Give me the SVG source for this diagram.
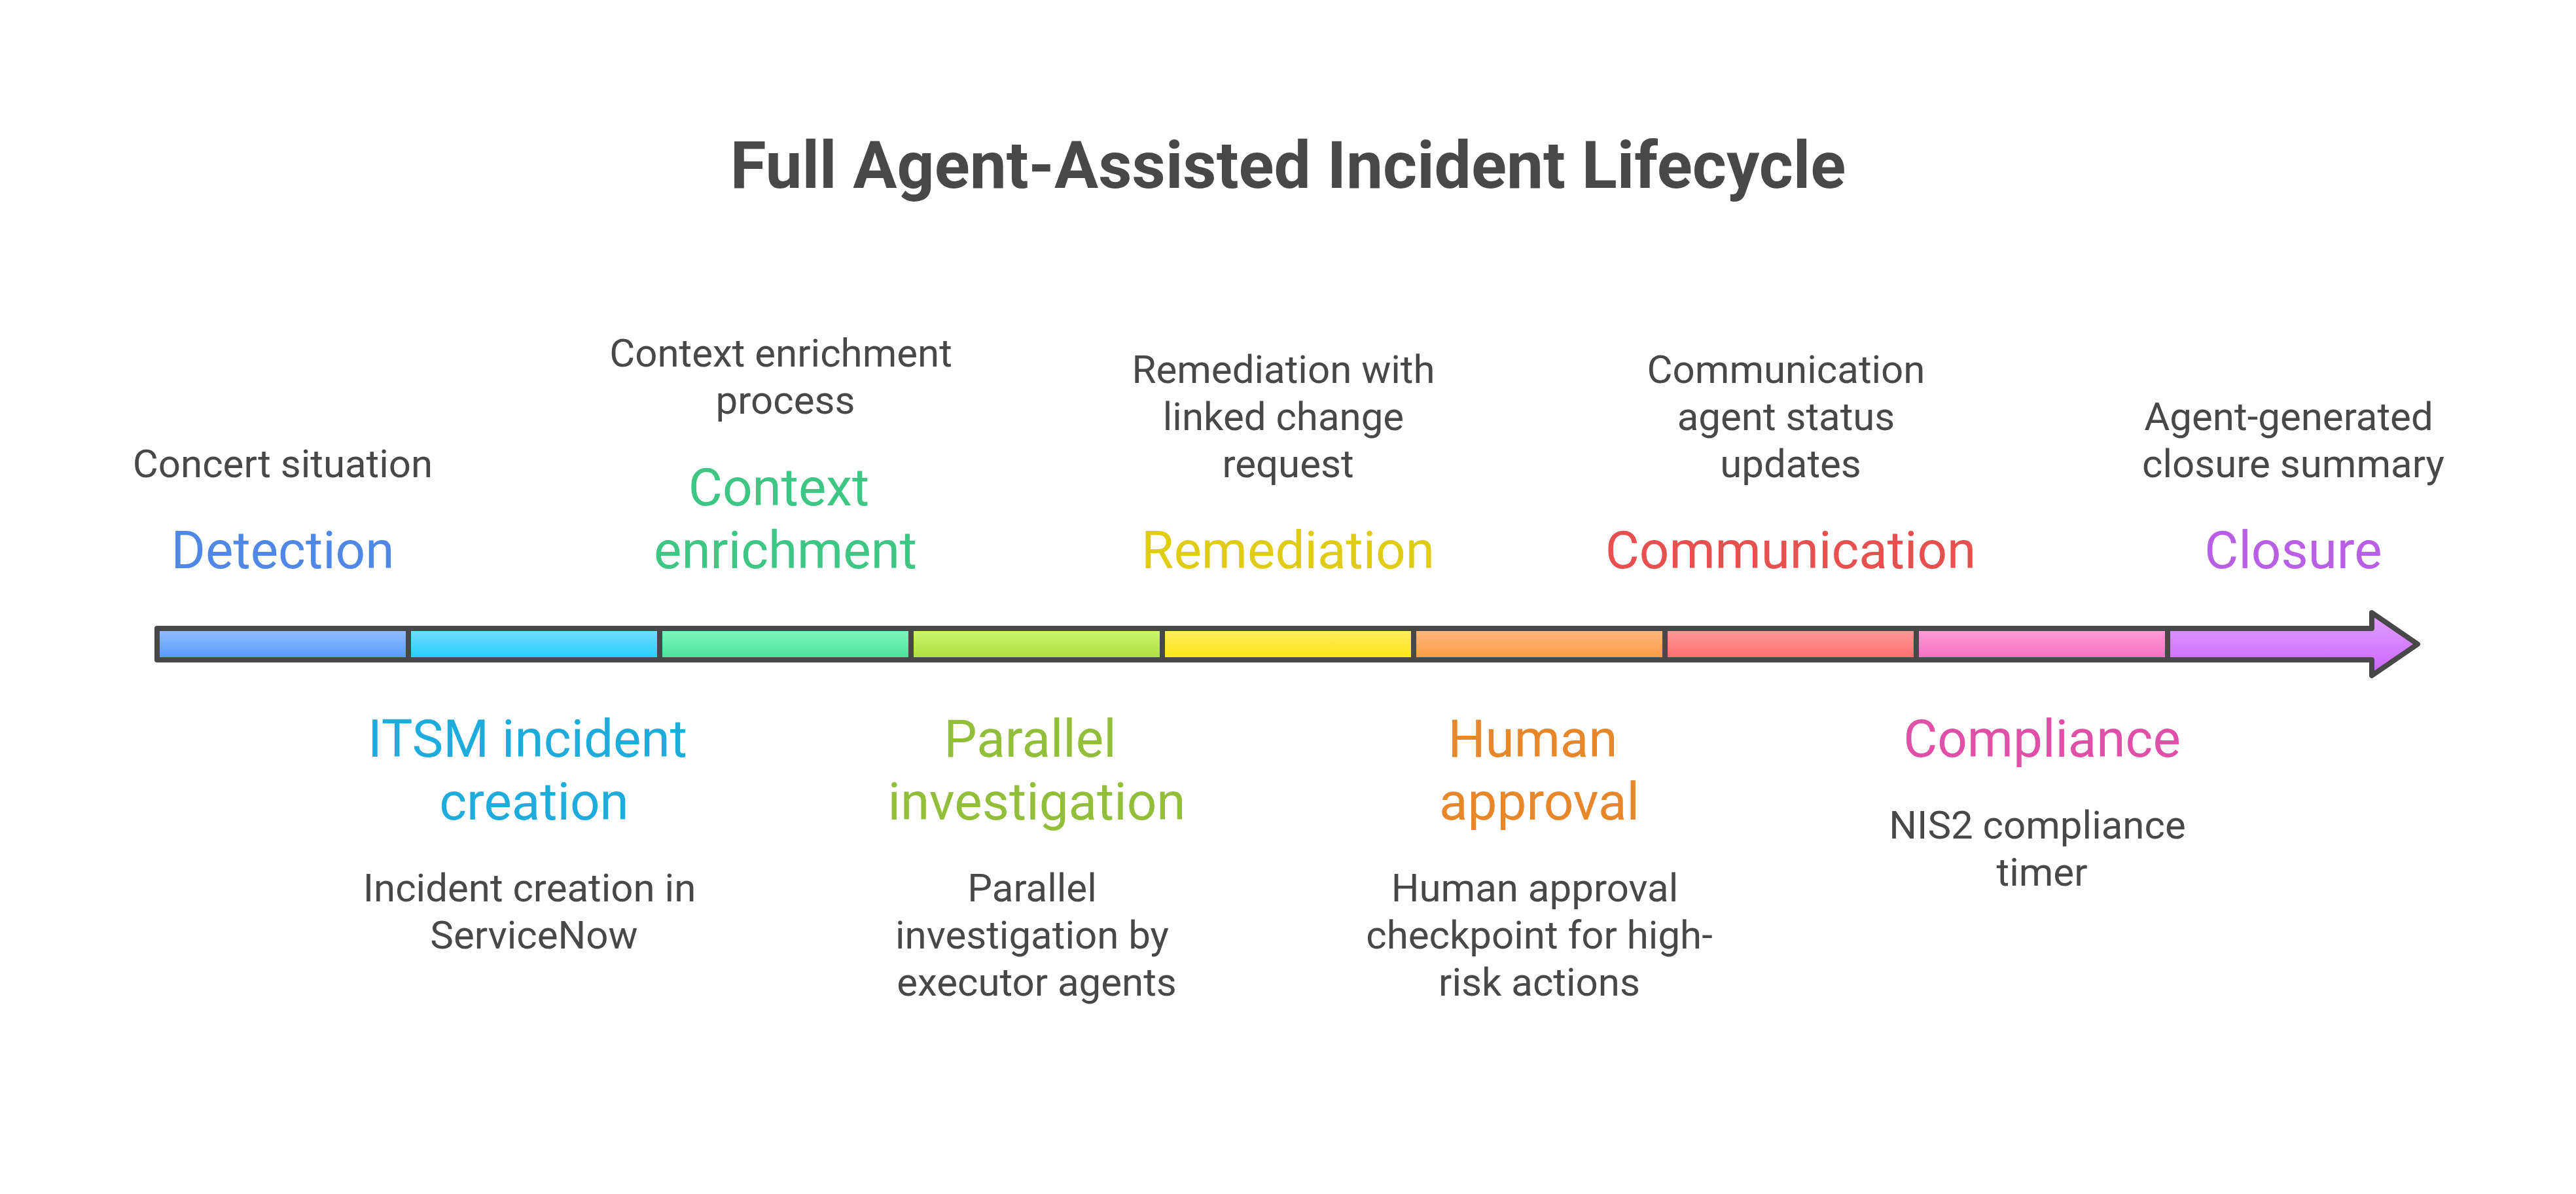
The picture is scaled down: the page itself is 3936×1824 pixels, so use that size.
<svg xmlns="http://www.w3.org/2000/svg" width="3936" height="1824" viewBox="0 0 3936 1824">
<defs>
<style>
text{font-family:Roboto,"Liberation Sans",sans-serif;text-anchor:middle}
.title{font-size:100px;font-weight:700;fill:#484848}
.desc{font-size:60px;fill:#484848}
.head{font-size:80px}
.outline{fill:none;stroke:#484848;stroke-width:8;stroke-linejoin:round}
.div{stroke:#484848;stroke-width:8}
</style>
<linearGradient id="g1" x1="0" y1="0" x2="0" y2="1"><stop offset="0" stop-color="#95BEFF"/><stop offset="1" stop-color="#5599FF"/></linearGradient>
<linearGradient id="g2" x1="0" y1="0" x2="0" y2="1"><stop offset="0" stop-color="#77DDFF"/><stop offset="1" stop-color="#22CCFF"/></linearGradient>
<linearGradient id="g3" x1="0" y1="0" x2="0" y2="1"><stop offset="0" stop-color="#80F8C0"/><stop offset="1" stop-color="#48E09C"/></linearGradient>
<linearGradient id="g4" x1="0" y1="0" x2="0" y2="1"><stop offset="0" stop-color="#CCF870"/><stop offset="1" stop-color="#AAE03C"/></linearGradient>
<linearGradient id="g5" x1="0" y1="0" x2="0" y2="1"><stop offset="0" stop-color="#FFEE66"/><stop offset="1" stop-color="#FFE50F"/></linearGradient>
<linearGradient id="g6" x1="0" y1="0" x2="0" y2="1"><stop offset="0" stop-color="#FFBB80"/><stop offset="1" stop-color="#FA9A40"/></linearGradient>
<linearGradient id="g7" x1="0" y1="0" x2="0" y2="1"><stop offset="0" stop-color="#FF9E9A"/><stop offset="1" stop-color="#FF6B6B"/></linearGradient>
<linearGradient id="g8" x1="0" y1="0" x2="0" y2="1"><stop offset="0" stop-color="#FF9ED8"/><stop offset="1" stop-color="#F56EC0"/></linearGradient>
<linearGradient id="g9" gradientUnits="userSpaceOnUse" x1="0" y1="936" x2="0" y2="1032"><stop offset="0" stop-color="#E2A2FF"/><stop offset="1" stop-color="#C862FF"/></linearGradient>
</defs>
<rect width="3936" height="1824" fill="#FFFFFF"/>
<text class="title" x="1968" y="287">Full Agent-Assisted Incident Lifecycle</text>

<g id="arrow">
<rect x="240" y="960" width="384" height="48" fill="url(#g1)"/>
<rect x="624" y="960" width="384" height="48" fill="url(#g2)"/>
<rect x="1008" y="960" width="384" height="48" fill="url(#g3)"/>
<rect x="1392" y="960" width="384" height="48" fill="url(#g4)"/>
<rect x="1776" y="960" width="384" height="48" fill="url(#g5)"/>
<rect x="2160" y="960" width="384" height="48" fill="url(#g6)"/>
<rect x="2544" y="960" width="384" height="48" fill="url(#g7)"/>
<rect x="2928" y="960" width="384" height="48" fill="url(#g8)"/>
<path d="M3312,960 H3624 V936 L3694,984 L3624,1032 V1008 H3312 Z" fill="url(#g9)"/>
<path class="outline" d="M240,960 H3624 V936 L3694,984 L3624,1032 V1008 H240 Z"/>
</g>
<g id="connectors">
<line class="div" x1="624" y1="960" x2="624" y2="1008"/>
<line class="div" x1="1008" y1="960" x2="1008" y2="1008"/>
<line class="div" x1="1392" y1="960" x2="1392" y2="1008"/>
<line class="div" x1="1776" y1="960" x2="1776" y2="1008"/>
<line class="div" x1="2160" y1="960" x2="2160" y2="1008"/>
<line class="div" x1="2544" y1="960" x2="2544" y2="1008"/>
<line class="div" x1="2928" y1="960" x2="2928" y2="1008"/>
<line class="div" x1="3312" y1="960" x2="3312" y2="1008"/>
</g>

<g id="detection">
<text class="desc" x="432" y="729">Concert situation</text>
<text class="head" x="432" y="868" fill="#4F88E6">Detection</text>
</g>
<g id="itsm">
<text class="head" x="806" y="1156" fill="#1EACDC">ITSM incident</text>
<text class="head" x="816" y="1252" fill="#1EACDC">creation</text>
<text class="desc" x="809" y="1377">Incident creation in</text>
<text class="desc" x="816" y="1449">ServiceNow</text>
</g>
<g id="context">
<text class="desc" x="1193" y="560">Context enrichment</text>
<text class="desc" x="1200" y="632">process</text>
<text class="head" x="1190" y="772" fill="#3DC684">Context</text>
<text class="head" x="1200" y="868" fill="#3DC684">enrichment</text>
</g>
<g id="parallel">
<text class="head" x="1574" y="1156" fill="#92BE3A">Parallel</text>
<text class="head" x="1584" y="1252" fill="#92BE3A">investigation</text>
<text class="desc" x="1577" y="1377">Parallel</text>
<text class="desc" x="1577" y="1449">investigation by</text>
<text class="desc" x="1584" y="1521">executor agents</text>
</g>
<g id="remediation">
<text class="desc" x="1961" y="585">Remediation with</text>
<text class="desc" x="1961" y="657">linked change</text>
<text class="desc" x="1968" y="729">request</text>
<text class="head" x="1968" y="868" fill="#E0CC14">Remediation</text>
</g>
<g id="human">
<text class="head" x="2342" y="1156" fill="#E8862A">Human</text>
<text class="head" x="2352" y="1252" fill="#E8862A">approval</text>
<text class="desc" x="2345" y="1377">Human approval</text>
<text class="desc" x="2352" y="1449">checkpoint for high-</text>
<text class="desc" x="2352" y="1521">risk actions</text>
</g>
<g id="communication">
<text class="desc" x="2729" y="585">Communication</text>
<text class="desc" x="2729" y="657">agent status</text>
<text class="desc" x="2736" y="729">updates</text>
<text class="head" x="2736" y="868" fill="#E85050">Communication</text>
</g>
<g id="compliance">
<text class="head" x="3120" y="1156" fill="#E050A8">Compliance</text>
<text class="desc" x="3113" y="1281">NIS2 compliance</text>
<text class="desc" x="3120" y="1353">timer</text>
</g>
<g id="closure">
<text class="desc" x="3497" y="657">Agent-generated</text>
<text class="desc" x="3504" y="729">closure summary</text>
<text class="head" x="3504" y="868" fill="#B95FE6">Closure</text>
</g>
</svg>
